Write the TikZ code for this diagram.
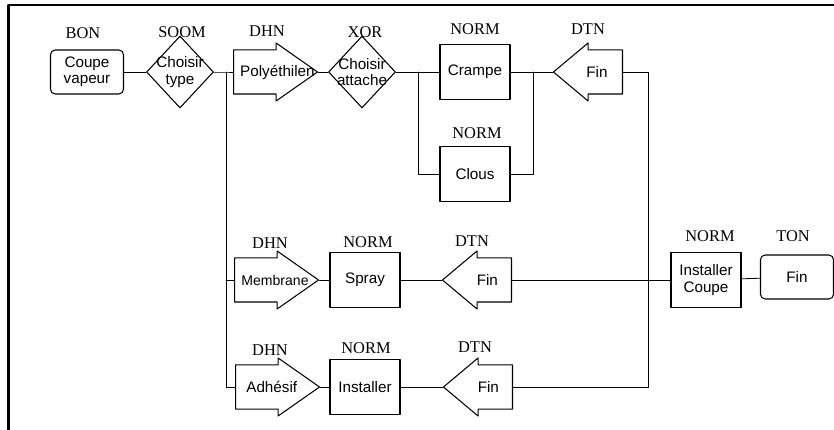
\documentclass[tikz,border=0pt]{standalone}
\usepackage{fontspec}
\setmainfont{Liberation Serif}
\newfontfamily\helv{Liberation Sans}
\usetikzlibrary{shapes.geometric,shapes.arrows,calc}

\begin{document}
\begin{tikzpicture}[x=0.03cm, y=-0.03cm, line cap=round, line join=round,
  lab/.style={font=\fontsize{14}{14}\selectfont, inner sep=0pt},
  txt/.style={font=\helv\fontsize{13}{14}\selectfont, align=center, inner sep=0pt},
  debut/.style={draw, line width=0.9pt, rounded corners=4pt, minimum width=2.19cm, minimum height=1.32cm, txt},
  norme/.style={draw, line width=0.9pt, minimum width=2.1cm, minimum height=1.65cm, txt},
  choix/.style={draw, line width=0.9pt, diamond, minimum width=2.01cm, minimum height=2.16cm, inner sep=0pt},
  fleche/.style={draw, line width=0.9pt, single arrow, single arrow head extend=0.21cm, single arrow head indent=0pt, minimum width=1.71cm, text height=0.3cm, text depth=0.1cm, inner xsep=0pt, inner ysep=0.445cm, anchor=tail},
  dhn/.style={fleche, minimum height=2.52cm, single arrow tip angle=70},
  dtn/.style={fleche, minimum height=2.07cm, single arrow tip angle=80, shape border rotate=180},
  lien/.style={line width=0.7pt},
  cadre/.style={line width=2pt, line cap=butt}]

\useasboundingbox (0,0) rectangle (834,430);

% cadre
\draw[cadre] (8.5,430) -- (8.5,5) -- (834,5);

% ligne du haut
\node[debut] (coupe) at (87,72) {Coupe\\vapeur};
\node[choix] (type) at (180,72) {};
\node[txt] (ttype) at (type) {Choisir\\type};
\node[dhn] (poly) at (233,72) {};
\node[txt] (tpoly) at ($(poly.tail)!0.52!(poly.tip)$) {Poly\'ethilen};
\node[choix] (attache) at (362,72) {};
\node[txt] (tattache) at (attache) {Choisir\\attache};
\node[norme] (crampe) at (475,72) {Crampe};
\node[norme] (clous) at (475,174) {Clous};
\node[dtn] (fin1) at (623,72) {};
\node[txt] (tfin1) at ($(fin1.tail)!0.37!(fin1.tip)$) {Fin};

% ligne du milieu
\node[dhn] (membrane) at (234,280) {};
\node[txt, font=\helv\fontsize{12}{13}\selectfont] (tmembrane) at ($(membrane.tail)!0.48!(membrane.tip)$) {Membrane};
\node[norme] (spray) at (365,280) {Spray};
\node[dtn] (fin2) at (512,280) {};
\node[txt] (tfin2) at ($(fin2.tail)!0.35!(fin2.tip)$) {Fin};
\node[norme] (instcoupe) at (706,280) {Installer\\Coupe};
\node[debut] (fin) at (797,277) {Fin};

% ligne du bas
\node[dhn] (adhesif) at (235,387) {};
\node[txt] (tadhesif) at ($(adhesif.tail)!0.43!(adhesif.tip)$) {Adh\'esif};
\node[norme] (installer) at (365,387) {Installer};
\node[dtn] (fin3) at (513,387) {};
\node[txt] (tfin3) at ($(fin3.tail)!0.35!(fin3.tip)$) {Fin};

% etiquettes
\node[lab] (tbon) at (83,33) {BON};
\node[lab] (tsoom) at (182,32) {SOOM};
\node[lab] (tdhn1) at (267,31) {DHN};
\node[lab] (txor) at (365,32) {XOR};
\node[lab] (tnorm1) at (475,29) {NORM};
\node[lab] (tdtn1) at (588,29) {DTN};
\node[lab] (tnorm2) at (477,133) {NORM};
\node[lab] (tdhn2) at (270,243) {DHN};
\node[lab] (tnorm3) at (368,242) {NORM};
\node[lab] (tdtn2) at (472,241) {DTN};
\node[lab] (tnorm4) at (710,236) {NORM};
\node[lab] (tton) at (793,236) {TON};
\node[lab] (tdhn3) at (270,350) {DHN};
\node[lab] (tnorm5) at (366,348) {NORM};
\node[lab] (tdtn3) at (475,347) {DTN};

% points de branchement
\coordinate (j1) at (226,72);
\coordinate (j2) at (226,280);
\coordinate (j3) at (226,387);
\coordinate (k1) at (418,72);
\coordinate (k2) at (418,174);
\coordinate (m1) at (533,72);
\coordinate (m2) at (533,174);
\coordinate (r1) at (648,72);
\coordinate (r2) at (648,387);

% liens
\draw[lien] (coupe) -- (type);
\draw[lien] (type) -- (j1) -- (poly.tail);
\draw[lien] (j1) -- (j3) -- (adhesif.tail);
\draw[lien] (j2) -- (membrane.tail);
\draw[lien] (poly.tip) -- (attache);
\draw[lien] (attache) -- (crampe);
\draw[lien] (k1) -- (k2) -- (clous);
\draw[lien] (crampe) -- (fin1.tip);
\draw[lien] (clous) -- (m2) -- (m1);
\draw[lien] (fin1.tail) -- (r1) -- (r2) -- (fin3.tail);
\draw[lien] (membrane.tip) -- (spray);
\draw[lien] (spray) -- (fin2.tip);
\draw[lien] (fin2.tail) -- (instcoupe);
\draw[lien] (adhesif.tip) -- (installer);
\draw[lien] (installer) -- (fin3.tip);
\draw[lien] (instcoupe) -- (fin);

\end{tikzpicture}
\end{document}
